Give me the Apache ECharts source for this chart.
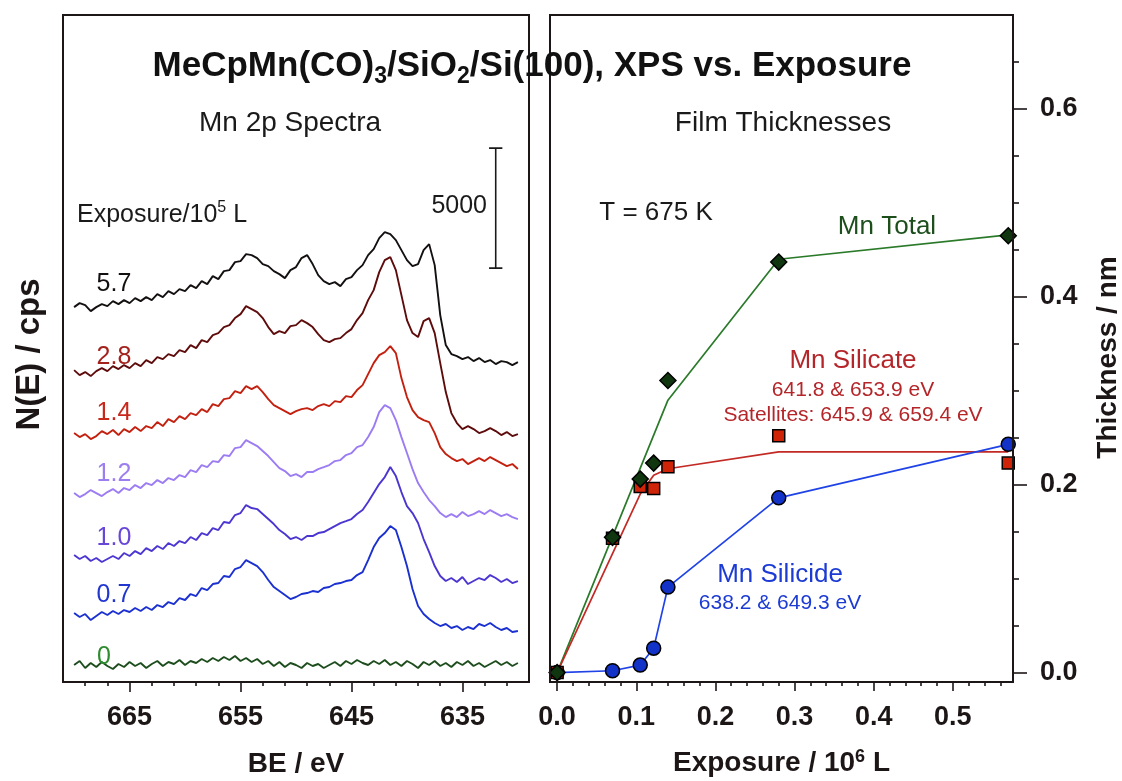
<!DOCTYPE html>
<html>
<head>
<meta charset="utf-8">
<script src="https://cdn.jsdelivr.net/npm/echarts@6/dist/echarts.min.js"></script>
<style>
  html, body { margin: 0; padding: 0; background: #fff; }
  #chart { width: 1122px; height: 781px; }
</style>
</head>
<body>
<div id="chart"></div>
<script>
// Mn 2p spectra: binding energy grid (eV) and N(E) traces (cps, stacked as displayed)
const bindingEnergy = [
  670, 669.5, 669, 668.5, 668, 667.5, 667, 666.5, 666, 665.5,
  665, 664.5, 664, 663.5, 663, 662.5, 662, 661.5, 661, 660.5,
  660, 659.5, 659, 658.5, 658, 657.5, 657, 656.5, 656, 655.5,
  655, 654.5, 654, 653.5, 653, 652.5, 652, 651.5, 651, 650.5,
  650, 649.5, 649, 648.5, 648, 647.5, 647, 646.5, 646, 645.5,
  645, 644.5, 644, 643.5, 643, 642.5, 642, 641.5, 641, 640.5,
  640, 639.5, 639, 638.5, 638, 637.5, 637, 636.5, 636, 635.5,
  635, 634.5, 634, 633.5, 633, 632.5, 632, 631.5, 631, 630.5,
  630
];

const spectrum57 = [
  15625, 15792, 15708, 15458, 15625, 15750, 15667, 15875, 15750, 15917,
  15792, 16000, 15875, 16042, 15917, 16167, 16042, 16292, 16167, 16375,
  16292, 16542, 16417, 16708, 16583, 16917, 16792, 17125, 17167, 17500,
  17542, 17833, 17792, 17667, 17417, 17333, 17125, 17000, 16833, 17167,
  17292, 17667, 17792, 17417, 16958, 16708, 16583, 16667, 16500, 16792,
  16875, 17167, 17375, 17792, 18042, 18500, 18750, 18667, 18417, 18000,
  17583, 17333, 17417, 18000, 18250, 17375, 15292, 14042, 13667, 13583,
  13458, 13542, 13375, 13500, 13333, 13417, 13250, 13375, 13333, 13208,
  13333
];

const spectrum28 = [
  13000, 12792, 12917, 12750, 12958, 13083, 12958, 13167, 13042, 13208,
  13083, 13292, 13167, 13417, 13292, 13542, 13458, 13667, 13583, 13833,
  13750, 14042, 13917, 14250, 14167, 14458, 14542, 14792, 14875, 15167,
  15333, 15667, 15542, 15417, 15167, 14792, 14500, 14625, 14542, 14833,
  14875, 15083, 14958, 14792, 14500, 14250, 14167, 14292, 14333, 14542,
  14708, 15083, 15375, 15917, 16333, 17083, 17583, 17708, 17167, 16125,
  15083, 14542, 14375, 15042, 15167, 14542, 13292, 12083, 11208, 10792,
  10542, 10667, 10542, 10375, 10458, 10583, 10458, 10292, 10417, 10250,
  10333
];

const spectrum14 = [
  10375, 10208, 10333, 10125, 10250, 10458, 10333, 10500, 10292, 10542,
  10417, 10625, 10458, 10667, 10583, 10833, 10667, 10958, 10833, 11083,
  10958, 11208, 11125, 11375, 11250, 11583, 11500, 11792, 11833, 12125,
  12042, 12333, 12208, 12333, 12083, 11792, 11542, 11417, 11292, 11167,
  11292, 11375, 11417, 11333, 11500, 11583, 11500, 11708, 11667, 11917,
  11875, 12167, 12375, 12833, 13292, 13625, 13750, 14000, 13708, 12667,
  11875, 11333, 11042, 10917, 10833, 10375, 9792, 9500, 9333, 9208,
  9292, 9083, 9208, 9333, 9208, 9375, 9250, 9125, 9000, 9083,
  8875
];

const spectrum12 = [
  7875, 7708, 7833, 8000, 7875, 7750, 7917, 8042, 7875, 8083,
  8000, 8208, 8083, 8292, 8208, 8417, 8292, 8500, 8417, 8625,
  8542, 8833, 8750, 9042, 8958, 9208, 9167, 9458, 9417, 9750,
  9792, 10083, 9958, 9833, 9625, 9417, 9167, 8917, 8792, 8583,
  8667, 8542, 8750, 8750, 8875, 8958, 9042, 9208, 9250, 9458,
  9542, 9792, 9875, 10208, 10625, 11250, 11542, 11417, 10917, 10208,
  9542, 8875, 8292, 7917, 7583, 7333, 7042, 6875, 7000, 6875,
  7083, 6917, 7000, 7125, 7000, 7167, 7042, 6917, 7000, 6875,
  6792
];

const spectrum10 = [
  5292, 5125, 5250, 5042, 5167, 5000, 5125, 5250, 5125, 5375,
  5250, 5458, 5333, 5583, 5458, 5667, 5542, 5792, 5667, 5875,
  5792, 6042, 5917, 6208, 6125, 6417, 6333, 6667, 6625, 6958,
  7042, 7375, 7250, 7208, 7000, 6792, 6583, 6333, 6167, 5958,
  6042, 5917, 6083, 6083, 6208, 6250, 6375, 6500, 6625, 6708,
  6792, 7000, 7167, 7500, 7875, 8250, 8542, 8958, 8583, 7917,
  7333, 7042, 6625, 5958, 5417, 4833, 4417, 4208, 4333, 4167,
  4375, 4083, 4208, 4333, 4250, 4458, 4333, 4167, 4292, 4125,
  4208
];

const spectrum07 = [
  2875, 2708, 2833, 2583, 2750, 2917, 2792, 2958, 2833, 3000,
  2917, 3083, 2958, 3125, 3000, 3208, 3125, 3333, 3250, 3500,
  3417, 3667, 3583, 3917, 3833, 4083, 4125, 4417, 4375, 4708,
  4792, 5083, 4958, 4833, 4583, 4250, 3958, 3792, 3625, 3458,
  3542, 3667, 3708, 3792, 3750, 3917, 3958, 4083, 4125, 4208,
  4250, 4458, 4583, 5083, 5625, 6000, 6208, 6500, 6333, 5625,
  4833, 3875, 3167, 2833, 2625, 2458, 2333, 2417, 2250, 2333,
  2167, 2292, 2208, 2417, 2333, 2458, 2292, 2167, 2250, 2083,
  2125
];

const spectrum00 = [
  708, 875, 583, 792, 625, 833, 667, 542, 750, 625,
  833, 667, 792, 583, 750, 875, 667, 833, 750, 917,
  708, 875, 792, 958, 833, 1000, 875, 1042, 917, 1083,
  875, 1000, 833, 958, 750, 875, 667, 833, 625, 792,
  708, 583, 792, 667, 750, 583, 708, 833, 667, 875,
  750, 917, 792, 708, 875, 750, 917, 708, 833, 667,
  875, 750, 583, 833, 708, 875, 667, 792, 625, 833,
  708, 875, 667, 792, 625, 750, 875, 708, 833, 667,
  792
];

const spectrumExposures = ['5.7', '2.8', '1.4', '1.2', '1.0', '0.7', '0'];
const spectrumTraces = [spectrum57, spectrum28, spectrum14, spectrum12, spectrum10, spectrum07, spectrum00];

// 5000 cps scale bar
const scaleBarCounts = 5000;
const scaleBarBase = 17250;
const scaleBarEnergy = 632;

// Film thicknesses (nm) vs exposure (10^6 L)
const exposure = [0, 0.07, 0.105, 0.122, 0.14, 0.28, 0.57];
const mnTotal = [0, 0.144, 0.206, 0.223, 0.311, 0.437, 0.465];
const mnSilicate = [0, 0.143, 0.198, 0.196, 0.219, 0.252, 0.223];
const mnSilicide = [0, 0.002, 0.008, 0.026, 0.091, 0.186, 0.243];

// model curves drawn through the thickness data
const totalFitExposure = [0, 0.14, 0.28, 0.57];
const totalFitThickness = [0, 0.29, 0.44, 0.466];
const silicateFitExposure = [0, 0.105, 0.122, 0.14, 0.28, 0.57];
const silicateFitThickness = [0, 0.19, 0.21, 0.217, 0.235, 0.235];

// axis ticks
const beMajorTicks = [665, 655, 645, 635];
const beMinorTicks = [669, 667, 663, 661, 659, 657, 653, 651, 649, 647, 643, 641, 639, 637, 633, 631];
const exposureMajorTicks = [0, 0.1, 0.2, 0.3, 0.4, 0.5];
const exposureMinorTicks = [0.02, 0.04, 0.06, 0.08, 0.12, 0.14, 0.16, 0.18, 0.22, 0.24, 0.26, 0.28,
  0.32, 0.34, 0.36, 0.38, 0.42, 0.44, 0.46, 0.48, 0.52, 0.54, 0.56];
const thicknessMajorTicks = [0, 0.2, 0.4, 0.6];
const thicknessMinorTicks = [0.05, 0.1, 0.15, 0.25, 0.3, 0.35, 0.45, 0.5, 0.55, 0.65];

const FONT = "'Liberation Sans', Arial, Helvetica, sans-serif";
const INK = '#1d1616';

const traceColors = ['#141010', '#5e0b0b', '#c4200f', '#9c7cf2', '#4b36d2', '#1b30d0', '#1d4d1d'];
const traceLabelColors = ['#141010', '#a3221c', '#c8281c', '#9c7ef0', '#6846d8', '#2236d0', '#2e8b2e'];
const traceLabelPos = [[114, 284], [114, 357], [114, 413], [114, 474], [114, 538], [114, 595], [104, 657]];

function txt(x, y, text, size, color, extra) {
  return {
    type: 'text', x: x, y: y, z: 50,
    style: Object.assign({
      text: text, fill: color, fontSize: size, fontFamily: FONT,
      align: 'center', verticalAlign: 'middle'
    }, extra || {})
  };
}

// an axis line that stays on its grid edge and is not drawn (the frame comes from the rects)
function hiddenEdgeLine() {
  return { show: true, onZero: false, lineStyle: { color: 'rgba(0,0,0,0)', width: 0 } };
}

const chart = echarts.init(document.getElementById('chart'), null, { renderer: 'canvas' });

const spectraSeries = spectrumTraces.map(function (trace, i) {
  return {
    type: 'line', xAxisIndex: 0, yAxisIndex: 0,
    data: bindingEnergy.map(function (e, k) { return [e, trace[k]]; }),
    showSymbol: false, symbol: 'none',
    lineStyle: { color: traceColors[i], width: 1.9 },
    silent: true, animation: false
  };
});

const scaleBarSeries = {
  type: 'line', xAxisIndex: 0, yAxisIndex: 0,
  data: [
    [scaleBarEnergy - 0.6, scaleBarBase + scaleBarCounts],
    [scaleBarEnergy + 0.6, scaleBarBase + scaleBarCounts],
    ['-', '-'],
    [scaleBarEnergy, scaleBarBase + scaleBarCounts],
    [scaleBarEnergy, scaleBarBase],
    ['-', '-'],
    [scaleBarEnergy - 0.6, scaleBarBase],
    [scaleBarEnergy + 0.6, scaleBarBase]
  ],
  connectNulls: false, showSymbol: false, symbol: 'none',
  lineStyle: { color: '#1a1a1a', width: 1.6 }, animation: false, silent: true
};

function pairs(xs, ys) { return xs.map(function (x, i) { return [x, ys[i]]; }); }

const thicknessSeries = [
  {
    type: 'line', xAxisIndex: 2, yAxisIndex: 1, clip: false,
    data: pairs(totalFitExposure, totalFitThickness),
    showSymbol: false, symbol: 'none',
    lineStyle: { color: '#2a7a2a', width: 1.7 }, z: 2
  },
  {
    type: 'line', xAxisIndex: 2, yAxisIndex: 1, clip: false,
    data: pairs(silicateFitExposure, silicateFitThickness),
    showSymbol: false, symbol: 'none',
    lineStyle: { color: '#c32a25', width: 1.7 }, z: 2
  },
  {
    type: 'line', xAxisIndex: 2, yAxisIndex: 1, clip: false,
    data: pairs(exposure, mnSilicide),
    symbol: 'circle', symbolSize: 14, showSymbol: true,
    lineStyle: { color: '#1f43e6', width: 1.7 },
    itemStyle: { color: '#1232c8', borderColor: '#000', borderWidth: 1.5 }, z: 3
  },
  {
    type: 'scatter', xAxisIndex: 2, yAxisIndex: 1, clip: false,
    data: pairs(exposure, mnSilicate),
    symbol: 'rect', symbolSize: 12,
    itemStyle: { color: '#d02408', borderColor: '#000', borderWidth: 1.5, opacity: 1 }, z: 4
  },
  {
    type: 'scatter', xAxisIndex: 2, yAxisIndex: 1, clip: false,
    data: pairs(exposure, mnTotal),
    symbol: 'diamond', symbolSize: 16,
    itemStyle: { color: '#0f360f', borderColor: '#000', borderWidth: 1.5, opacity: 1 }, z: 5
  }
];

const boldLabel = { fontFamily: FONT, fontWeight: 'bold', fontSize: 27, color: INK };
const axisInk = { color: INK, width: 1.6 };
const rightPanelRect = { left: 550, top: 15, width: 463, height: 667, outerBoundsMode: 'none', containLabel: false };
const exposureRange = { min: -0.009, max: 0.576 };

const option = {
  animation: false,
  backgroundColor: '#ffffff',
  grid: [
    { left: 63, top: 15, width: 466, height: 667, outerBoundsMode: 'none', containLabel: false },
    rightPanelRect,
    // twin of the right panel that carries the visible exposure axis on the bottom edge
    Object.assign({}, rightPanelRect)
  ],
  xAxis: [
    {
      type: 'value', gridIndex: 0, min: 629, max: 671, inverse: true, position: 'bottom',
      splitLine: { show: false },
      axisLine: { show: true, onZero: false, lineStyle: axisInk },
      axisTick: { show: true, customValues: beMajorTicks, length: 10, lineStyle: axisInk },
      axisLabel: Object.assign({ customValues: beMajorTicks, margin: 22 }, boldLabel),
      name: 'BE / eV', nameLocation: 'middle', nameGap: 68,
      nameTextStyle: { fontFamily: FONT, fontWeight: 'bold', fontSize: 28, color: INK }
    },
    {
      type: 'value', gridIndex: 0, min: 629, max: 671, inverse: true, position: 'bottom',
      splitLine: { show: false }, axisLine: hiddenEdgeLine(), axisLabel: { show: false },
      axisTick: { show: true, customValues: beMinorTicks, length: 4, lineStyle: axisInk }
    },
    // data axis of the thickness plot (drawn by its twin below)
    Object.assign({ type: 'value', gridIndex: 1, position: 'bottom', show: false }, exposureRange),
    Object.assign({
      type: 'value', gridIndex: 2, position: 'bottom',
      splitLine: { show: false },
      axisLine: { show: true, onZero: false, lineStyle: axisInk },
      axisTick: { show: true, customValues: exposureMajorTicks, length: 9, lineStyle: axisInk },
      axisLabel: Object.assign({
        customValues: exposureMajorTicks, margin: 22,
        formatter: function (v) { return v.toFixed(1); }
      }, boldLabel),
      name: 'Exposure / 10{sup|6} L', nameLocation: 'middle', nameGap: 66,
      nameTextStyle: {
        fontFamily: FONT, fontWeight: 'bold', fontSize: 28, color: INK, lineHeight: 30,
        rich: { sup: { fontFamily: FONT, fontWeight: 'bold', fontSize: 18, color: INK, verticalAlign: 'top', lineHeight: 18 } }
      }
    }, exposureRange),
    Object.assign({
      type: 'value', gridIndex: 2, position: 'bottom',
      splitLine: { show: false }, axisLine: hiddenEdgeLine(), axisLabel: { show: false },
      axisTick: { show: true, customValues: exposureMinorTicks, length: 4, lineStyle: axisInk }
    }, exposureRange)
  ],
  yAxis: [
    {
      type: 'value', gridIndex: 0, min: 0, max: 27800,
      splitLine: { show: false }, axisLine: hiddenEdgeLine(), axisTick: { show: false }, axisLabel: { show: false },
      name: 'N(E) / cps', nameLocation: 'middle', nameGap: 17, nameRotate: 90,
      nameTextStyle: { fontFamily: FONT, fontWeight: 'bold', fontSize: 33, color: INK, padding: [0, 12, 0, 0] }
    },
    {
      type: 'value', gridIndex: 1, min: -0.01, max: 0.70, position: 'right',
      splitLine: { show: false },
      axisLine: { show: true, onZero: false, lineStyle: axisInk },
      axisTick: { show: true, customValues: thicknessMajorTicks, length: 14, lineStyle: axisInk },
      axisLabel: Object.assign({
        customValues: thicknessMajorTicks, margin: 27,
        formatter: function (v) { return v.toFixed(1); }
      }, boldLabel),
      name: 'Thickness / nm', nameLocation: 'middle', nameGap: 81, nameRotate: 90,
      nameTextStyle: { fontFamily: FONT, fontWeight: 'bold', fontSize: 28, color: INK, padding: [0, 18, 0, 0] }
    },
    {
      type: 'value', gridIndex: 1, min: -0.01, max: 0.70, position: 'right',
      splitLine: { show: false }, axisLine: hiddenEdgeLine(), axisLabel: { show: false },
      axisTick: { show: true, customValues: thicknessMinorTicks, length: 6, lineStyle: axisInk }
    },
    {
      // positive-only scale so the twin grid's x axes stay on the bottom edge
      type: 'value', gridIndex: 2, min: 1, max: 2, show: false
    }
  ],
  series: spectraSeries.concat([scaleBarSeries]).concat(thicknessSeries),
  graphic: [
    { type: 'rect', z: 40, shape: { x: 63, y: 15, width: 466, height: 667 }, style: { fill: 'none', stroke: INK, lineWidth: 2 } },
    { type: 'rect', z: 40, shape: { x: 550, y: 15, width: 463, height: 667 }, style: { fill: 'none', stroke: INK, lineWidth: 2 } },
    {
      type: 'text', x: 532, y: 66, z: 60,
      style: {
        text: '{b|MeCpMn(CO)}{s|3}{b|/SiO}{s|2}{b|/Si(100), XPS vs. Exposure}',
        align: 'center', verticalAlign: 'middle',
        rich: {
          b: { fontFamily: FONT, fontWeight: 'bold', fontSize: 35, fill: '#111', lineHeight: 44, verticalAlign: 'middle' },
          s: { fontFamily: FONT, fontWeight: 'bold', fontSize: 23, fill: '#111', lineHeight: 23, verticalAlign: 'bottom' }
        }
      }
    },
    txt(290, 123, 'Mn 2p Spectra', 28, '#1a1a1a'),
    txt(783, 123, 'Film Thicknesses', 28, '#1a1a1a'),
    {
      type: 'text', x: 77, y: 215, z: 50,
      style: {
        text: '{m|Exposure/10}{p|5}{m| L}',
        align: 'left', verticalAlign: 'middle',
        rich: {
          m: { fontFamily: FONT, fontSize: 25, fill: '#1a1a1a', lineHeight: 30, verticalAlign: 'middle' },
          p: { fontFamily: FONT, fontSize: 16, fill: '#1a1a1a', lineHeight: 16, verticalAlign: 'top' }
        }
      }
    },
    txt(487, 206, String(scaleBarCounts), 25, '#1a1a1a', { align: 'right' }),
    txt(traceLabelPos[0][0], traceLabelPos[0][1], spectrumExposures[0], 25, traceLabelColors[0]),
    txt(traceLabelPos[1][0], traceLabelPos[1][1], spectrumExposures[1], 25, traceLabelColors[1]),
    txt(traceLabelPos[2][0], traceLabelPos[2][1], spectrumExposures[2], 25, traceLabelColors[2]),
    txt(traceLabelPos[3][0], traceLabelPos[3][1], spectrumExposures[3], 25, traceLabelColors[3]),
    txt(traceLabelPos[4][0], traceLabelPos[4][1], spectrumExposures[4], 25, traceLabelColors[4]),
    txt(traceLabelPos[5][0], traceLabelPos[5][1], spectrumExposures[5], 25, traceLabelColors[5]),
    txt(traceLabelPos[6][0], traceLabelPos[6][1], spectrumExposures[6], 25, traceLabelColors[6]),
    txt(656, 213, 'T = 675 K', 26, '#1a1a1a'),
    txt(887, 227, 'Mn Total', 26, '#1d4f1d'),
    txt(853, 361, 'Mn Silicate', 26, '#b4262a'),
    txt(853, 390, '641.8 & 653.9 eV', 21, '#b4262a'),
    txt(853, 415, 'Satellites: 645.9 & 659.4 eV', 21, '#b4262a'),
    txt(780, 575, 'Mn Silicide', 26, '#1c3bd4'),
    txt(780, 603, '638.2 & 649.3 eV', 21, '#1c3bd4')
  ]
};

chart.setOption(option);
</script>
</body>
</html>
